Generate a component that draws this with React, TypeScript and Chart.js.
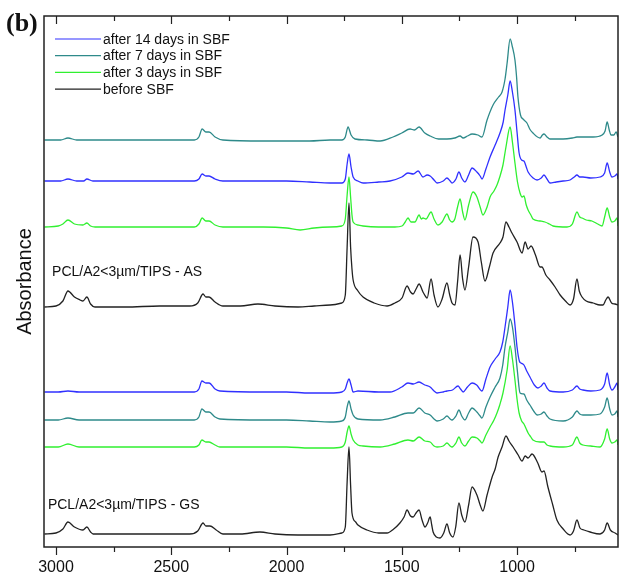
import React, { useEffect, useRef } from "react";
import { Chart, registerables } from "chart.js";

Chart.register(...registerables);

type P = [number, number];

// wavenumber (cm-1), absorbance (stacked, arbitrary units)
const asBefore: P[] = [[3050,240],[3000,241],[2970,246],[2948,256],[2920,250],[2895,247],[2883,246],[2866,250],[2850,243],[2831,240],[2700,240],[2550,241],[2420,241],[2385,244],[2362,253],[2350,250],[2336,250],[2310,245],[2276,241],[2200,241],[2124,243],[2050,241],[1950,240],[1880,241],[1811,242],[1760,244],[1745,252],[1737,300],[1729,344],[1722,300],[1716,278],[1711,267],[1690,256],[1668,250],[1620,244],[1564,241],[1530,244],[1499,249],[1477,261],[1462,255],[1451,253],[1438,258],[1425,263],[1408,255],[1395,250],[1390,249],[1373,268],[1360,252],[1343,240],[1325,248],[1304,264],[1292,252],[1282,244],[1269,242],[1258,265],[1247,292],[1236,268],[1226,257],[1210,280],[1191,310],[1169,305],[1155,285],[1139,266],[1120,280],[1104,294],[1074,304],[1061,310],[1048,325],[1035,320],[1022,314],[1000,305],[978,294],[965,305],[952,298],[939,301],[920,292],[900,280],[892,280],[875,272],[857,267],[835,260],[813,252],[790,246],[770,242],[755,248],[740,268],[730,256],[718,250],[700,246],[670,244],[640,242],[627,242],[615,247],[605,250],[590,244],[575,243],[562,242]];

const asAfter3: P[] = [[3050,320],[2990,321],[2970,323],[2948,327],[2920,323],[2883,322],[2866,324],[2850,321],[2830,320],[2600,320],[2400,320],[2380,323],[2366,329],[2350,326],[2336,326],[2310,322],[2276,320],[2100,320],[2000,319],[1941,317],[1880,319],[1811,320],[1760,321],[1745,328],[1737,352],[1729,370],[1722,350],[1716,332],[1711,325],[1690,322],[1668,321],[1600,320],[1530,320],[1499,321],[1485,325],[1473,329],[1460,325],[1443,325],[1425,332],[1415,328],[1408,329],[1395,328],[1373,335],[1360,328],[1343,322],[1325,325],[1304,333],[1292,327],[1282,325],[1270,328],[1258,340],[1247,348],[1236,335],[1226,327],[1210,342],[1191,355],[1174,350],[1160,340],[1148,332],[1130,340],[1117,350],[1100,356],[1087,362],[1075,370],[1061,382],[1048,400],[1030,420],[1020,405],[1009,384],[998,365],[987,354],[978,350],[970,351],[960,342],[952,337],[940,332],[931,328],[900,326],[879,325],[860,323],[844,321],[783,320],[760,323],[740,335],[728,330],[718,329],[700,327],[675,326],[650,323],[631,321],[620,330],[609,339],[598,330],[588,325],[576,326],[566,329],[562,321]];

const asAfter7: P[] = [[3050,407],[2980,407],[2948,409],[2910,407],[2866,407],[2830,407],[2600,407],[2400,407],[2380,410],[2366,418],[2350,415],[2336,415],[2310,410],[2276,407],[2100,406],[2000,406],[1900,406],[1811,407],[1760,407],[1745,410],[1733,420],[1720,412],[1703,408],[1650,407],[1594,406],[1538,410],[1500,414],[1464,418],[1445,417],[1425,420],[1400,414],[1377,411],[1340,408],[1304,408],[1270,409],[1247,411],[1234,409],[1215,411],[1195,413],[1170,412],[1152,410],[1130,427],[1104,442],[1080,450],[1065,455],[1052,468],[1043,484],[1030,508],[1020,500],[1009,487],[1002,470],[996,450],[985,432],[974,428],[957,424],[945,418],[931,414],[900,409],[890,412],[883,413],[870,410],[857,408],[800,408],[760,409],[740,410],[700,410],[670,410],[631,412],[618,416],[609,425],[600,417],[592,412],[580,412],[570,415],[562,410]];

const asAfter14: P[] = [[3050,366],[2980,366],[2948,368],[2910,366],[2880,366],[2866,368],[2840,366],[2600,366],[2400,366],[2380,368],[2366,373],[2350,371],[2336,371],[2310,368],[2276,366],[2100,366],[2000,366],[1900,365],[1811,364],[1760,364],[1745,368],[1737,383],[1729,393],[1720,380],[1711,370],[1690,366],[1668,364],[1600,365],[1551,366],[1500,370],[1473,374],[1450,373],[1429,376],[1408,370],[1390,372],[1377,371],[1360,367],[1347,364],[1320,366],[1304,369],[1290,366],[1282,364],[1265,368],[1252,375],[1240,369],[1226,365],[1210,372],[1195,379],[1174,375],[1160,371],[1152,368],[1135,378],[1117,390],[1095,402],[1074,414],[1060,425],[1052,437],[1040,452],[1030,466],[1020,455],[1009,437],[1000,415],[991,394],[980,387],[970,386],[960,380],[952,375],[930,369],[913,367],[895,369],[883,372],[870,368],[857,364],[830,365],[800,366],[770,367],[752,370],[740,372],[728,370],[714,370],[680,369],[640,370],[620,374],[609,384],[598,375],[588,370],[576,371],[566,373],[562,368]];

const gsBefore: P[] = [[3050,13],[3000,14],[2970,18],[2948,25],[2920,20],[2883,17],[2866,20],[2850,15],[2839,13],[2700,13],[2550,13],[2420,13],[2385,16],[2362,24],[2350,21],[2332,21],[2305,17],[2276,13],[2200,13],[2115,15],[2050,13],[1950,12],[1880,12],[1811,12],[1760,14],[1745,20],[1737,65],[1729,100],[1722,62],[1716,34],[1700,25],[1690,22],[1651,17],[1600,14],[1564,14],[1535,18],[1508,24],[1490,30],[1477,37],[1462,31],[1451,30],[1438,34],[1425,37],[1412,27],[1399,20],[1388,24],[1377,30],[1370,22],[1364,15],[1350,10],[1334,9],[1318,14],[1304,23],[1292,14],[1278,10],[1266,20],[1252,44],[1240,32],[1226,25],[1210,42],[1195,60],[1174,52],[1160,42],[1148,36],[1130,52],[1108,70],[1095,78],[1082,90],[1065,100],[1048,111],[1035,106],[1017,100],[995,92],[978,86],[965,91],[952,89],[935,93],[910,84],[892,75],[883,76],[866,60],[845,42],[827,27],[800,18],[770,12],[755,16],[740,27],[727,19],[710,17],[683,15],[640,13],[620,17],[609,24],[595,17],[575,14],[562,12]];

const gsAfter3: P[] = [[3050,100],[2990,100],[2948,103],[2900,100],[2600,100],[2400,100],[2380,102],[2367,107],[2350,105],[2336,105],[2310,102],[2289,100],[2100,100],[2000,100],[1900,99],[1811,99],[1760,100],[1745,105],[1737,115],[1729,121],[1720,113],[1711,107],[1690,102],[1668,101],[1594,100],[1530,103],[1473,107],[1450,106],[1425,110],[1400,106],[1377,105],[1360,101],[1347,100],[1320,101],[1304,104],[1290,101],[1282,100],[1265,104],[1252,110],[1240,104],[1226,101],[1210,106],[1195,110],[1174,109],[1160,106],[1152,104],[1135,112],[1117,120],[1100,127],[1087,134],[1075,142],[1061,154],[1043,177],[1030,201],[1020,188],[1009,167],[1000,148],[991,134],[980,126],[970,123],[960,118],[952,114],[940,110],[931,107],[900,105],[883,105],[870,102],[857,101],[800,100],[760,102],[740,110],[728,104],[714,102],[680,101],[640,100],[620,108],[609,118],[598,108],[588,104],[576,105],[566,107],[562,102]];

const gsAfter7: P[] = [[3050,127],[2990,127],[2948,129],[2900,127],[2600,127],[2400,127],[2380,130],[2367,138],[2350,135],[2336,135],[2310,130],[2289,128],[2100,127],[2000,127],[1900,126],[1811,125],[1760,126],[1745,130],[1737,140],[1729,146],[1720,138],[1711,132],[1690,128],[1594,127],[1530,130],[1473,134],[1450,134],[1425,139],[1400,134],[1377,132],[1360,128],[1347,126],[1320,128],[1304,131],[1290,128],[1282,127],[1265,131],[1252,137],[1240,131],[1226,127],[1210,134],[1195,139],[1174,135],[1160,131],[1152,129],[1135,140],[1117,150],[1095,160],[1074,169],[1062,182],[1052,200],[1040,215],[1030,228],[1020,220],[1009,200],[998,175],[987,154],[970,153],[958,147],[944,142],[925,135],[913,132],[895,133],[883,135],[870,131],[857,128],[800,126],[760,130],[740,136],[728,133],[714,132],[680,132],[640,133],[620,140],[609,149],[598,138],[588,132],[576,133],[566,136],[562,130]];

const gsAfter14: P[] = [[3050,155],[2990,155],[2948,156],[2900,155],[2600,155],[2400,155],[2380,158],[2367,166],[2350,164],[2336,164],[2310,158],[2289,156],[2100,155],[2000,155],[1900,154],[1811,154],[1760,155],[1745,158],[1737,164],[1729,168],[1720,162],[1711,155],[1690,156],[1600,155],[1551,155],[1500,160],[1473,164],[1450,163],[1425,165],[1400,162],[1377,160],[1360,156],[1347,154],[1320,155],[1304,156],[1280,157],[1256,161],[1245,158],[1234,155],[1215,160],[1195,164],[1175,162],[1152,156],[1135,168],[1117,180],[1095,188],[1074,195],[1062,205],[1052,220],[1040,240],[1030,257],[1020,245],[1009,222],[1000,200],[990,186],[983,184],[970,182],[958,176],[944,170],[925,162],[909,159],[895,161],[883,164],[870,159],[857,156],[800,155],[760,157],[740,161],[728,158],[714,157],[680,156],[640,157],[620,163],[609,174],[598,162],[588,157],[576,160],[566,164],[562,157]];

const xMajorTicks = [3000, 2500, 2000, 1500, 1000];
const xMinorTicks = [2750, 2250, 1750, 1250, 750];

const legendLabels = ["after 14 days in SBF", "after 7 days in SBF", "after 3 days in SBF", "before SBF"];
const legendColors = ["#3030ff", "#2e8a8a", "#30f030", "#222222"];

const sampleLabels = ["PCL/A2<3\u00b5m/TIPS - AS", "PCL/A2<3\u00b5m/TIPS - GS"];
const sampleLabelWn = [3017, 3035];
const sampleLabelAbs = [271, 38];

const SANS = "'Liberation Sans', Arial, sans-serif";

const decorPlugin = {
  id: "decor",
  afterDraw(chart: any) {
    const { ctx, chartArea: a, scales } = chart;
    const xs = scales.x;
    const ys = scales.y;
    ctx.save();
    // frame
    ctx.strokeStyle = "#222";
    ctx.lineWidth = 1.5;
    ctx.strokeRect(a.left, a.top, a.right - a.left, a.bottom - a.top);
    // ticks
    ctx.lineWidth = 1.2;
    const drawTick = (v: number, len: number) => {
      const px = Math.round(xs.getPixelForValue(v)) + 0.5;
      ctx.beginPath();
      ctx.moveTo(px, a.bottom);
      ctx.lineTo(px, a.bottom + len);
      ctx.moveTo(px, a.top);
      ctx.lineTo(px, a.top + len);
      ctx.stroke();
    };
    xMajorTicks.forEach((v) => drawTick(v, 8));
    xMinorTicks.forEach((v) => drawTick(v, 5));
    // legend
    ctx.font = `14px ${SANS}`;
    ctx.textBaseline = "alphabetic";
    ctx.textAlign = "left";
    legendLabels.forEach((lab, i) => {
      const y = 39 + i * 16.7;
      ctx.strokeStyle = legendColors[i];
      ctx.lineWidth = 1.2;
      ctx.beginPath();
      ctx.moveTo(55, y);
      ctx.lineTo(101, y);
      ctx.stroke();
      ctx.fillStyle = "#111";
      ctx.fillText(lab, 103, y + 4.5);
    });
    // sample labels
    sampleLabels.forEach((lab, i) => {
      ctx.fillText(lab, xs.getPixelForValue(sampleLabelWn[i]), ys.getPixelForValue(sampleLabelAbs[i]));
    });
    // panel label
    ctx.font = `bold 26px 'Liberation Serif', 'Times New Roman', serif`;
    ctx.fillStyle = "#111";
    ctx.fillText("(b)", 6, 31);
    ctx.restore();
  },
};

const series = [
  { label: "after 14 days in SBF", data: asAfter14, color: legendColors[0] },
  { label: "after 7 days in SBF", data: asAfter7, color: legendColors[1] },
  { label: "after 3 days in SBF", data: asAfter3, color: legendColors[2] },
  { label: "before SBF", data: asBefore, color: legendColors[3] },
  { label: "after 14 days in SBF (GS)", data: gsAfter14, color: legendColors[0] },
  { label: "after 7 days in SBF (GS)", data: gsAfter7, color: legendColors[1] },
  { label: "after 3 days in SBF (GS)", data: gsAfter3, color: legendColors[2] },
  { label: "before SBF (GS)", data: gsBefore, color: legendColors[3] },
];

export default function App() {
  const ref = useRef<HTMLCanvasElement | null>(null);
  useEffect(() => {
    if (!ref.current) return;
    const chart = new Chart(ref.current, {
      type: "line",
      data: {
        datasets: series.map((s) => ({
          label: s.label,
          data: s.data.map(([x, y]) => ({ x, y })),
          borderColor: s.color,
          backgroundColor: s.color,
          borderWidth: 1.3,
          pointRadius: 0,
          fill: false,
          cubicInterpolationMode: "monotone" as const,
        })),
      },
      options: {
        animation: false,
        responsive: false,
        devicePixelRatio: 1,
        layout: { padding: { top: 16, right: 7, left: 0, bottom: 0 } },
        plugins: { legend: { display: false }, tooltip: { enabled: false } },
        scales: {
          x: {
            type: "linear",
            reverse: true,
            min: 562,
            max: 3052,
            grid: { display: false, drawTicks: false },
            border: { display: false },
            ticks: {
              font: { size: 16, family: SANS },
              color: "#111",
              padding: 11,
              maxRotation: 0,
              callback: (v: any) => String(v),
            },
            afterBuildTicks: (s: any) => {
              s.ticks = xMajorTicks.map((v) => ({ value: v }));
            },
            afterFit: (s: any) => {
              s.height = 30;
            },
          },
          y: {
            type: "linear",
            min: 0,
            max: 531,
            grid: { display: false, drawTicks: false },
            border: { display: false },
            ticks: { display: false },
            title: {
              display: true,
              text: "Absorbance",
              font: { size: 20, family: SANS },
              color: "#111",
              padding: { top: 13, bottom: 0 },
            },
            afterFit: (s: any) => {
              s.width = 44;
            },
          },
        },
      },
      plugins: [decorPlugin],
    });
    return () => chart.destroy();
  }, []);
  return (
    <div style={{ position: "absolute", left: 0, top: 0, width: 625, height: 577, background: "#fff" }}>
      <canvas ref={ref} width={625} height={577} style={{ display: "block" }} />
    </div>
  );
}
